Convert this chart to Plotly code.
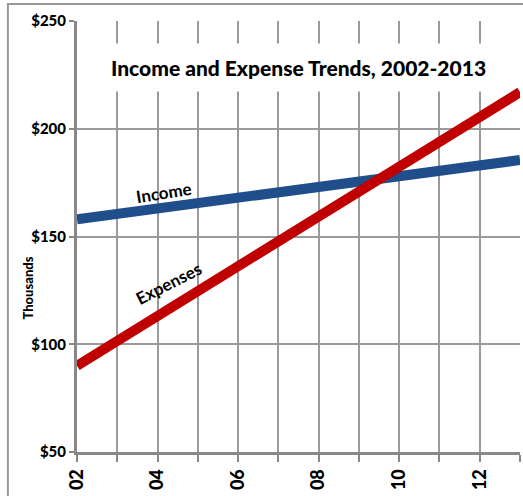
import plotly.graph_objects as go

years = [2002, 2003, 2004, 2005, 2006, 2007, 2008, 2009, 2010, 2011, 2012, 2013]
income = [158, 160.5, 163, 165.5, 168, 170.5, 173, 175.5, 178, 180.5, 183, 185.5]
expenses = [90, 101.5, 113, 124.5, 136, 147.5, 159, 170.5, 182, 193.5, 205, 217]
x_tick_vals = [2002, 2004, 2006, 2008, 2010, 2012]
x_tick_text = ["02", "04", "06", "08", "10", "12"]
y_tick_vals = [50, 100, 150, 200, 250]
y_tick_text = ["$50", "$100", "$150", "$200", "$250"]

FONT = "Lato, Open Sans, sans-serif"

fig = go.Figure()
fig.add_trace(go.Scatter(x=years, y=income, mode="lines",
                         line=dict(color="#1F4E8A", width=10), showlegend=False))
fig.add_trace(go.Scatter(x=years, y=expenses, mode="lines",
                         line=dict(color="#C00000", width=10), showlegend=False))

fig.update_layout(
    width=523, height=496,
    margin=dict(l=77, r=3, t=21, b=44, autoexpand=False),
    paper_bgcolor="white", plot_bgcolor="white",
    font=dict(family=FONT, color="black"),
    xaxis=dict(range=[2002, 2013], tickvals=x_tick_vals, ticktext=x_tick_text,
               tickangle=-90, ticks="outside", ticklen=7, tickwidth=2, tickcolor="#888",
               showline=True, linecolor="#888", linewidth=3,
               showgrid=True, gridcolor="#9a9a9a", gridwidth=1.5,
               tickfont=dict(size=18, family=FONT, weight=900),
               minor=dict(dtick=1, tick0=2002, ticks="outside", ticklen=7, tickwidth=2,
                          tickcolor="#888", showgrid=True, gridcolor="#9a9a9a", gridwidth=1.5),
               zeroline=False, fixedrange=True, automargin=False),
    yaxis=dict(range=[50, 250], tickvals=y_tick_vals, ticktext=y_tick_text,
               ticks="outside", ticklen=5, tickwidth=2, tickcolor="#888",
               showline=True, linecolor="#888", linewidth=3,
               showgrid=True, gridcolor="#9a9a9a", gridwidth=1.5,
               tickfont=dict(size=15, family=FONT, weight=900),
               zeroline=False, fixedrange=True, automargin=False),
)

fig.add_annotation(x=2007.49, y=228.2, text="Income and Expense Trends, 2002-2013",
                   showarrow=False, font=dict(size=21, family=FONT, color="black", weight=900),
                   bgcolor="white", borderpad=11)
fig.add_annotation(x=2004.16, y=170.3, text="Income", textangle=-9,
                   showarrow=False, font=dict(size=17, family=FONT, color="black", weight=700))
fig.add_annotation(x=2004.26, y=128.3, text="Expenses", textangle=-27,
                   showarrow=False, font=dict(size=17, family=FONT, color="black", weight=700))
fig.add_annotation(xref="paper", yref="paper", x=-0.11, y=0.38, text="Thousands",
                   textangle=-90, showarrow=False, xanchor="center", yanchor="middle",
                   font=dict(size=13, family=FONT, color="black", weight=900))

fig.add_shape(type="rect", xref="paper", yref="paper",
              x0=-0.156, x1=1.02, y0=-0.2, y1=1.0394,
              line=dict(color="#999", width=2), layer="below")

fig.write_html("out.html", config={"displayModeBar": False},
               post_script="document.body.style.margin='0';document.body.style.overflow='hidden';")
